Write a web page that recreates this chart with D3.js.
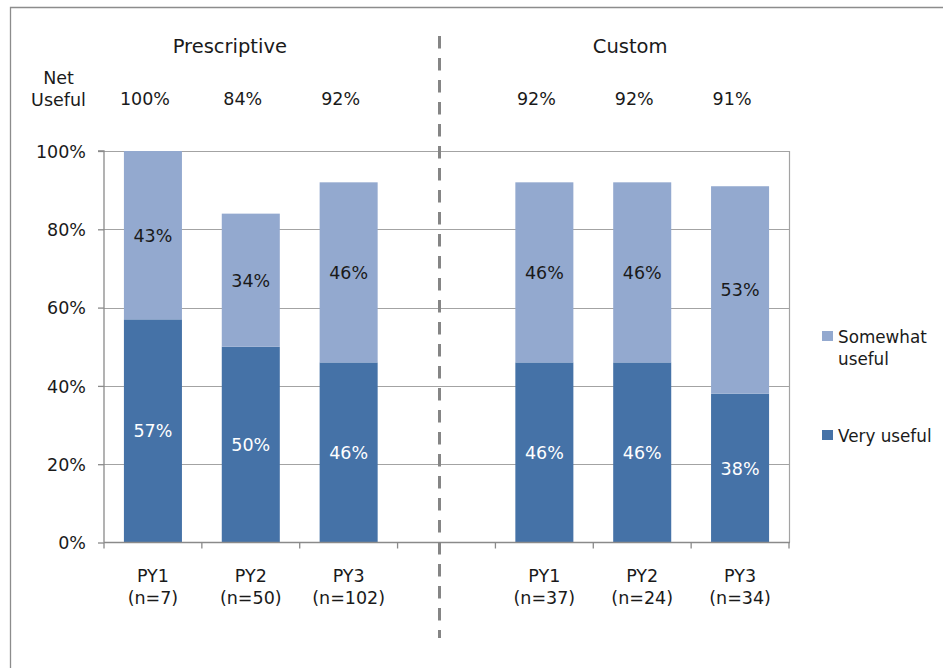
<!DOCTYPE html>
<html><head><meta charset="utf-8">
<script src="https://cdn.jsdelivr.net/npm/d3@7"></script>
<style>
html,body{margin:0;padding:0;background:#fff;}
text{font-family:"DejaVu Sans",sans-serif;fill:#1a1a1a;}
</style></head>
<body><svg id="chart" width="943" height="668"></svg>
<script>
// ---- data ----
const slots = ["P1","P2","P3","gap","C1","C2","C3"];
const categories = ["P1","P2","P3","C1","C2","C3"];
const catLine1 = ["PY1","PY2","PY3","PY1","PY2","PY3"];
const catLine2 = ["(n=7)","(n=50)","(n=102)","(n=37)","(n=24)","(n=34)"];
const veryUseful = [57,50,46,46,46,38];
const somewhatUseful = [43,34,46,46,46,53];
const netUseful = [100,84,92,92,92,91];
const groups = ["Prescriptive","Custom"];
const seriesNames = ["Somewhat useful","Very useful"];
const yTicks = [0,20,40,60,80,100];

(function(){
// ---- layout ----
const svg = d3.select("#chart");
const pLeft = 104, pRight = 789, pTop = 151, pBottom = 542.5;
const cDark = "#4572A7", cLight = "#93A9CF", gridC = "#a3a3a3", axisC = "#8a8a8a";

const x = d3.scaleBand().domain(slots).range([pLeft, pRight]).paddingInner(0.407).paddingOuter(0.2035);
const y = d3.scaleLinear().domain([0,100]).range([pBottom, pTop]);
const cx = d => x(d) + x.bandwidth()/2;

// frame
svg.append("path").attr("d", `M10.5,700 L10.5,7.5 L960,7.5`).attr("fill","none").attr("stroke","#8c8c8c").attr("stroke-width",1.3);

// gridlines
svg.append("g").selectAll("line").data(yTicks.filter(t=>t>0)).join("line")
  .attr("x1", pLeft).attr("x2", pRight).attr("y1", d=>Math.round(y(d))+0.5).attr("y2", d=>Math.round(y(d))+0.5)
  .attr("stroke", gridC).attr("stroke-width",1.2);
// right border of plot
svg.append("line").attr("x1", pRight+0.5).attr("x2", pRight+0.5).attr("y1", y(100)).attr("y2", y(0))
  .attr("stroke", gridC).attr("stroke-width",1.2);

// bars
const rows = categories.map((c,i)=>({cat:c, very:veryUseful[i], some:somewhatUseful[i], net:netUseful[i], l1:catLine1[i], l2:catLine2[i]}));
const barG = svg.append("g");
barG.selectAll("rect.very").data(rows).join("rect").attr("class","very")
  .attr("x", d=>x(d.cat)).attr("width", x.bandwidth())
  .attr("y", d=>y(d.very)).attr("height", d=>y(0)-y(d.very)).attr("fill", cDark);
barG.selectAll("rect.some").data(rows).join("rect").attr("class","some")
  .attr("x", d=>x(d.cat)).attr("width", x.bandwidth())
  .attr("y", d=>y(d.very+d.some)).attr("height", d=>y(d.very)-y(d.very+d.some)).attr("fill", cLight);

// segment labels
const fs = "17.5px";
barG.selectAll("text.vl").data(rows).join("text").attr("class","vl")
  .attr("x", d=>cx(d.cat)).attr("y", d=>(y(0)+y(d.very))/2 + 6.5)
  .attr("text-anchor","middle").style("font-size",fs).style("fill","#ffffff")
  .text(d=>d.very+"%");
barG.selectAll("text.sl").data(rows).join("text").attr("class","sl")
  .attr("x", d=>cx(d.cat)).attr("y", d=>(y(d.very)+y(d.very+d.some))/2 + 6.5)
  .attr("text-anchor","middle").style("font-size",fs)
  .text(d=>d.some+"%");

// y axis
const yAxis = d3.axisLeft(y).tickValues(yTicks).tickSize(6).tickPadding(12).tickFormat(d=>d+"%");
const ya = svg.append("g").attr("transform",`translate(${pLeft},0)`).call(yAxis);
ya.select(".domain").attr("stroke", axisC).attr("stroke-width",1.3).attr("d", `M-6,${y(100)}H0V${y(0)}`);
ya.selectAll(".tick line").attr("stroke", axisC).attr("stroke-width",1.3);
ya.selectAll(".tick text").style("font-size",fs).style("font-family","DejaVu Sans").attr("fill","#1a1a1a").attr("dy","0.36em");

// x axis line + ticks at band boundaries
svg.append("line").attr("x1", pLeft).attr("x2", pRight+1).attr("y1", y(0)).attr("y2", y(0)).attr("stroke", axisC).attr("stroke-width",1.5);
const bounds = slots.map(s=>x(s) - x.step()*x.paddingInner()/2).concat([pRight]);
bounds[0] = pLeft;
svg.append("g").selectAll("line").data(bounds).join("line")
  .attr("x1", d=>d).attr("x2", d=>d).attr("y1", y(0)).attr("y2", y(0)+6)
  .attr("stroke", axisC).attr("stroke-width",1.3);

// category labels
const catG = svg.append("g");
catG.selectAll("text.c1").data(rows).join("text").attr("class","c1")
  .attr("x", d=>cx(d.cat)).attr("y", 582).attr("text-anchor","middle").style("font-size",fs).text(d=>d.l1);
catG.selectAll("text.c2").data(rows).join("text").attr("class","c2")
  .attr("x", d=>cx(d.cat)).attr("y", 604).attr("text-anchor","middle").style("font-size",fs).text(d=>d.l2);

// net useful row
svg.append("text").attr("x",58.5).attr("y",84).attr("text-anchor","middle").style("font-size",fs).text("Net");
svg.append("text").attr("x",58.5).attr("y",105.5).attr("text-anchor","middle").style("font-size",fs).text("Useful");
svg.append("g").selectAll("text").data(rows).join("text")
  .attr("x", d=>cx(d.cat) - 8).attr("y", 104.5).attr("text-anchor","middle").style("font-size",fs)
  .text(d=>d.net+"%");

// group titles
const groupCenters = [ (cx("P1")+cx("P3"))/2 - 21, (cx("C1")+cx("C3"))/2 - 12 ];
svg.append("g").selectAll("text").data(groups).join("text")
  .attr("x", (d,i)=>groupCenters[i]).attr("y", 53).attr("text-anchor","middle").style("font-size","19.5px")
  .text(d=>d);

// dashed separator
svg.append("line").attr("x1",439.5).attr("x2",439.5).attr("y1",36).attr("y2",638)
  .attr("stroke","#858585").attr("stroke-width",3).attr("stroke-dasharray","12.5 9.5");

// legend
const legG = svg.append("g");
const legItems = [
  {name: seriesNames[0], color: cLight, sy: 331, lines: ["Somewhat","useful"], ty: 343},
  {name: seriesNames[1], color: cDark, sy: 430, lines: ["Very useful"], ty: 442}
];
legItems.forEach(it=>{
  legG.append("rect").attr("x",822).attr("y",it.sy).attr("width",11).attr("height",10).attr("fill",it.color);
  const t = legG.append("text").attr("x",838).attr("y",it.ty).style("font-size","16.8px");
  it.lines.forEach((l,i)=>t.append("tspan").attr("x",838).attr("dy", i===0?0:22).text(l));
});
})();
</script>
</body></html>
